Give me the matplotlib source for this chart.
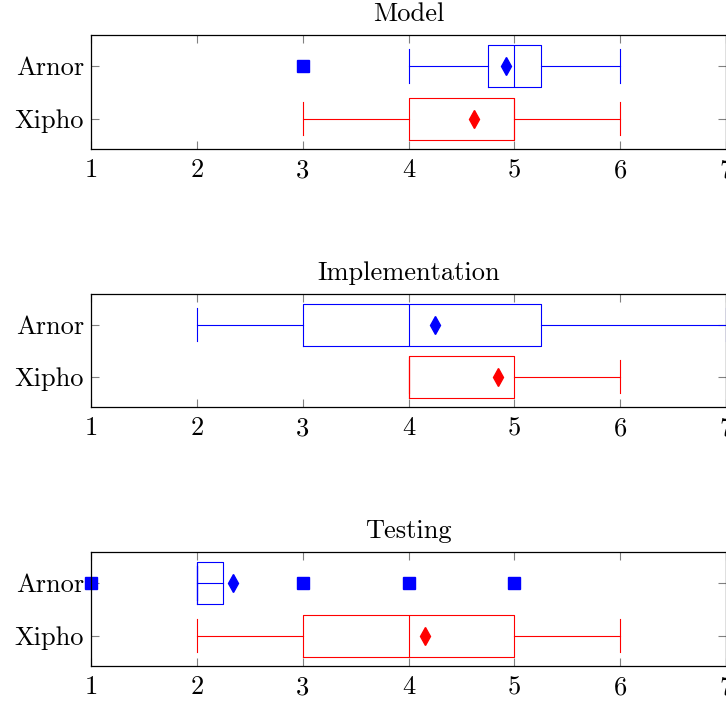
import matplotlib
matplotlib.use("Agg")
import matplotlib.pyplot as plt

plt.rcParams['font.family'] = ['cmr10', 'DejaVu Serif']
plt.rcParams['axes.formatter.use_mathtext'] = True
plt.rcParams['mathtext.fontset'] = 'cm'

categories = ['Model', 'Implementation', 'Testing']
groups = ['Xipho', 'Arnor']
colors = ['red', 'blue']

# whislo, q1, med, q3, whishi, mean, fliers  (per category: [Xipho, Arnor])
whislo = [[3, 4], [4, 2], [2, 2]]
q1 = [[4, 4.75], [4, 3], [3, 2]]
med = [[5, 5], [4, 4], [4, 2]]
q3 = [[5, 5.25], [5, 5.25], [5, 2.25]]
whishi = [[6, 6], [6, 7], [6, 2]]
means = [[4.62, 4.92], [4.85, 4.25], [4.16, 2.34]]
fliers = [[[], [3]], [[], []], [[], [1, 3, 4, 5]]]

xticks = [1, 2, 3, 4, 5, 6, 7]

fig = plt.figure(figsize=(7.26, 7.01), dpi=100)
H = 701.0
tops = [35, 294, 552]
heights = [114, 113, 114]

for i, cat in enumerate(categories):
    ax = fig.add_axes([91 / 726, 1 - (tops[i] + heights[i]) / H, 635 / 726, heights[i] / H])
    for j, g in enumerate(groups):
        stats = [dict(whislo=whislo[i][j], q1=q1[i][j], med=med[i][j], q3=q3[i][j],
                      whishi=whishi[i][j], mean=means[i][j], fliers=fliers[i][j])]
        c = colors[j]
        ax.bxp(stats, positions=[j + 1], widths=0.8, capwidths=0.64, vert=False,
               showmeans=True, patch_artist=False,
               boxprops=dict(color=c, linewidth=0.8),
               whiskerprops=dict(color=c, linewidth=0.8),
               capprops=dict(color=c, linewidth=0.8),
               medianprops=dict(color=c, linewidth=0.8),
               meanprops=dict(marker='d', markerfacecolor=c, markeredgecolor=c, markersize=9),
               flierprops=dict(marker='s', markerfacecolor=c, markeredgecolor=c, markersize=8.5,
                               linestyle='none'))
    ax.set_xlim(1, 7)
    ax.set_ylim(0.42, 2.59)
    ax.set_xticks(xticks)
    ax.set_xticklabels([str(t) for t in xticks])
    ax.set_yticks([1, 2])
    ax.set_yticklabels(groups)
    ax.tick_params(axis='both', direction='in', length=6, width=0.8, color='gray',
                   labelsize=19, top=True, right=True, pad=5)
    ax.tick_params(axis='x', pad=7)
    for sp in ax.spines.values():
        sp.set_linewidth(0.9)
        sp.set_color('black')
    ax.set_title(cat, fontsize=19, pad=10)
    for line in ax.lines:
        line.set_clip_on(False)

fig.savefig('out.png', dpi=100)
